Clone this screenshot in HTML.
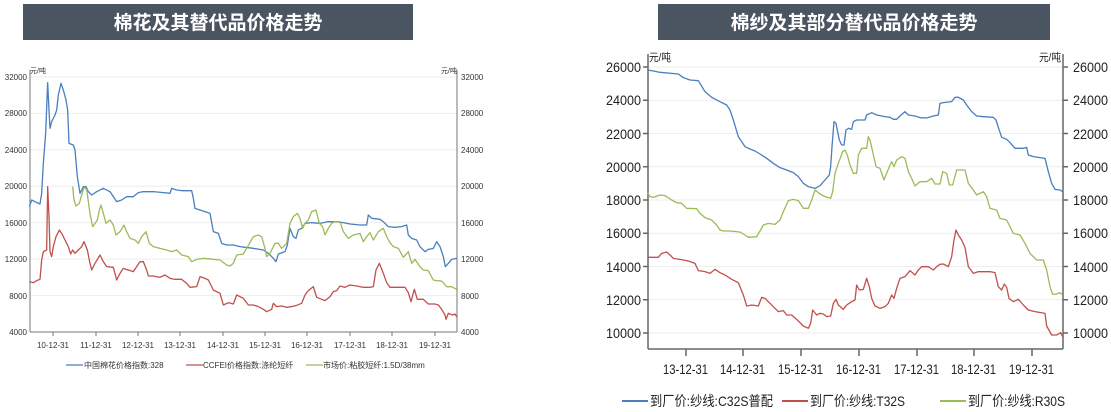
<!DOCTYPE html>
<html><head><meta charset="utf-8"><style>
body{margin:0;background:#fff;width:1111px;height:412px;overflow:hidden;font-family:"Liberation Sans","Noto Sans CJK SC",sans-serif}
svg{position:absolute;left:0;top:0}
.s{fill:none;stroke-width:1.3;vector-effect:non-scaling-stroke;stroke-linejoin:round}
</style></head><body>
<svg width="1111" height="412" viewBox="0 0 1111 412" font-family="Liberation Sans, Noto Sans CJK SC, sans-serif">
<rect x="23" y="4" width="390" height="36" fill="#4b5461"/>
<text x="218" y="29" fill="#fff" font-size="19" font-weight="bold" text-anchor="middle">棉花及其替代品价格走势</text>
<rect x="658" y="4" width="392" height="36" fill="#4b5461"/>
<text x="854" y="29" fill="#fff" font-size="19" font-weight="bold" text-anchor="middle">棉纱及其部分替代品价格走势</text>

<!-- LEFT CHART -->
<g stroke="#eee" stroke-width="1">
<line x1="30" x2="457" y1="77" y2="77"/><line x1="30" x2="457" y1="113.4" y2="113.4"/><line x1="30" x2="457" y1="149.9" y2="149.9"/><line x1="30" x2="457" y1="186.3" y2="186.3"/><line x1="30" x2="457" y1="222.7" y2="222.7"/><line x1="30" x2="457" y1="259.1" y2="259.1"/><line x1="30" x2="457" y1="295.6" y2="295.6"/>
</g>
<g stroke="#777" stroke-width="1" fill="none">
<line x1="30" y1="70" x2="30" y2="332"/><line x1="457" y1="70" x2="457" y2="332"/><line x1="30" y1="332" x2="457" y2="332"/>
</g>
<g font-size="8" fill="#333" text-anchor="end">
<text x="27" y="80">32000</text><text x="27" y="116">28000</text><text x="27" y="153">24000</text><text x="27" y="189">20000</text><text x="27" y="226">16000</text><text x="27" y="262">12000</text><text x="27" y="299">8000</text><text x="27" y="335">4000</text>
</g>
<g font-size="8" fill="#333">
<text x="461" y="80">32000</text><text x="461" y="116">28000</text><text x="461" y="153">24000</text><text x="461" y="189">20000</text><text x="461" y="226">16000</text><text x="461" y="262">12000</text><text x="461" y="299">8000</text><text x="461" y="335">4000</text>
<text x="30" y="73" font-size="7">元/吨</text><text x="441" y="73" font-size="7">元/吨</text>
</g>
<g font-size="8" fill="#333" text-anchor="middle">
<text x="53" y="348">10-12-31</text><text x="96" y="348">11-12-31</text><text x="138" y="348">12-12-31</text><text x="180" y="348">13-12-31</text><text x="223" y="348">14-12-31</text><text x="265" y="348">15-12-31</text><text x="307" y="348">16-12-31</text><text x="350" y="348">17-12-31</text><text x="392" y="348">18-12-31</text><text x="435" y="348">19-12-31</text>
</g>
<g stroke="#777"><path d="M53 332v4M96 332v4M138 332v4M180 332v4M223 332v4M265 332v4M307 332v4M350 332v4M392 332v4M435 332v4"/></g>
<g transform="translate(0,50) scale(0.33333)">
<polyline class="s" stroke="#4a7ebf" points="88,470 95,450 105,455 120,462 125,430 130,340 137,250 143,98 147,180 150,235 155,215 165,195 170,180 175,135 183,100 190,120 198,150 203,180 207,280 220,285 225,300 232,380 240,430 250,410 258,410 265,425 275,435 290,425 310,415 330,425 340,440 350,455 365,450 380,440 400,440 415,428 430,425 460,425 490,428 510,430 515,415 530,420 545,422 575,422 580,445 585,475 600,480 615,485 630,490 640,545 655,550 665,580 680,585 700,585 720,590 735,592 760,595 790,600 805,610 820,625 828,635 835,612 855,605 862,585 870,535 880,560 888,565 895,540 905,535 915,520 935,518 960,520 985,515 1005,515 1030,518 1050,522 1080,525 1100,525 1105,495 1115,505 1140,508 1150,515 1165,530 1185,532 1205,530 1220,525 1225,555 1235,565 1250,570 1260,590 1275,605 1285,598 1300,595 1310,575 1320,590 1330,620 1336,650 1345,640 1355,628 1370,625"/>
<polyline class="s" stroke="#c0504d" points="88,695 100,698 110,692 120,688 125,630 130,605 140,600 143,410 147,500 150,605 155,620 160,590 168,560 178,540 185,550 195,570 205,590 212,612 218,600 225,610 235,600 245,590 252,575 262,600 270,640 275,660 285,640 300,615 310,635 320,650 340,652 350,690 360,670 370,655 385,660 400,665 410,650 420,635 430,635 440,660 445,678 460,678 480,682 495,675 510,685 525,688 545,688 560,700 570,712 590,710 600,680 615,685 625,690 640,720 660,730 670,765 685,758 700,762 710,735 730,745 745,765 760,765 775,770 790,778 800,785 815,778 820,760 830,770 845,768 860,772 875,770 890,766 905,760 915,735 925,722 940,710 950,742 965,748 975,752 990,740 1000,725 1010,722 1020,708 1035,712 1050,705 1070,708 1090,712 1110,712 1120,710 1128,660 1138,640 1150,670 1160,698 1170,712 1190,712 1215,712 1225,728 1233,755 1243,718 1252,748 1270,748 1285,762 1305,762 1315,765 1325,778 1335,795 1338,808 1345,790 1358,795 1365,792 1370,800"/>
<polyline class="s" stroke="#9bbb59" points="218,410 222,450 228,468 238,460 245,435 252,412 260,418 265,455 270,490 278,530 285,520 292,510 298,480 303,465 310,490 318,520 330,510 340,525 348,555 360,545 372,525 380,545 390,565 405,570 415,580 425,560 438,545 448,580 460,590 480,595 500,600 515,605 530,600 545,615 565,620 575,635 590,628 610,625 640,628 660,630 680,645 690,648 700,640 710,615 730,612 740,595 760,560 775,555 785,560 795,595 800,620 810,610 825,580 835,580 845,595 860,580 870,520 880,500 892,490 900,505 908,535 915,520 925,510 935,485 948,480 958,520 968,530 975,555 985,535 995,520 1005,515 1020,515 1030,545 1045,565 1060,555 1080,550 1090,575 1100,560 1110,548 1120,570 1135,545 1150,535 1160,560 1170,578 1180,590 1195,595 1210,622 1225,605 1235,640 1245,628 1260,650 1270,660 1285,662 1300,690 1310,692 1325,693 1340,710 1355,710 1370,718"/>
</g>
<g font-size="8" fill="#333">
<line x1="66" x2="83" y1="365" y2="365" stroke="#4a7ebf" stroke-width="1.3"/><text x="84" y="368">中国棉花价格指数:328</text>
<line x1="186" x2="203" y1="365" y2="365" stroke="#c0504d" stroke-width="1.3"/><text x="203" y="368">CCFEI价格指数:涤纶短纤</text>
<line x1="306" x2="323" y1="365" y2="365" stroke="#9bbb59" stroke-width="1.3"/><text x="323" y="368">市场价:粘胶短纤:1.5D/38mm</text>
</g>

<!-- RIGHT CHART -->
<g stroke="#eee" stroke-width="1">
<line x1="648" x2="1063" y1="67" y2="67"/><line x1="648" x2="1063" y1="100.25" y2="100.25"/><line x1="648" x2="1063" y1="133.5" y2="133.5"/><line x1="648" x2="1063" y1="166.75" y2="166.75"/><line x1="648" x2="1063" y1="200" y2="200"/><line x1="648" x2="1063" y1="233.25" y2="233.25"/><line x1="648" x2="1063" y1="266.5" y2="266.5"/><line x1="648" x2="1063" y1="299.75" y2="299.75"/><line x1="648" x2="1063" y1="333" y2="333"/>
</g>
<g stroke="#666" stroke-width="1.5" fill="none">
<line x1="648" y1="54" x2="648" y2="349"/><line x1="1063" y1="54" x2="1063" y2="349"/><line x1="648" y1="349" x2="1063" y2="349"/>
<path d="M643 67h5M643 100.25h5M643 133.5h5M643 166.75h5M643 200h5M643 233.25h5M643 266.5h5M643 299.75h5M643 333h5M1063 67h5M1063 100.25h5M1063 133.5h5M1063 166.75h5M1063 200h5M1063 233.25h5M1063 266.5h5M1063 299.75h5M1063 333h5"/>
<path d="M686 349v7M743 349v7M801 349v7M859 349v7M917 349v7M974 349v7M1032 349v7"/>
</g>
<g font-size="14" fill="#222">
<text x="606" y="72" textLength="35" lengthAdjust="spacingAndGlyphs">26000</text><text x="606" y="105" textLength="35" lengthAdjust="spacingAndGlyphs">24000</text><text x="606" y="139" textLength="35" lengthAdjust="spacingAndGlyphs">22000</text><text x="606" y="172" textLength="35" lengthAdjust="spacingAndGlyphs">20000</text><text x="606" y="205" textLength="35" lengthAdjust="spacingAndGlyphs">18000</text><text x="606" y="238" textLength="35" lengthAdjust="spacingAndGlyphs">16000</text><text x="606" y="272" textLength="35" lengthAdjust="spacingAndGlyphs">14000</text><text x="606" y="305" textLength="35" lengthAdjust="spacingAndGlyphs">12000</text><text x="606" y="338" textLength="35" lengthAdjust="spacingAndGlyphs">10000</text>
<text x="1073" y="72" textLength="35" lengthAdjust="spacingAndGlyphs">26000</text><text x="1073" y="105" textLength="35" lengthAdjust="spacingAndGlyphs">24000</text><text x="1073" y="139" textLength="35" lengthAdjust="spacingAndGlyphs">22000</text><text x="1073" y="172" textLength="35" lengthAdjust="spacingAndGlyphs">20000</text><text x="1073" y="205" textLength="35" lengthAdjust="spacingAndGlyphs">18000</text><text x="1073" y="238" textLength="35" lengthAdjust="spacingAndGlyphs">16000</text><text x="1073" y="272" textLength="35" lengthAdjust="spacingAndGlyphs">14000</text><text x="1073" y="305" textLength="35" lengthAdjust="spacingAndGlyphs">12000</text><text x="1073" y="338" textLength="35" lengthAdjust="spacingAndGlyphs">10000</text>
<text x="649" y="61" font-size="11" textLength="22" lengthAdjust="spacingAndGlyphs">元/吨</text><text x="1039" y="61" font-size="11" textLength="22" lengthAdjust="spacingAndGlyphs">元/吨</text>
</g>
<g font-size="14" fill="#222">
<text x="663" y="374" textLength="45" lengthAdjust="spacingAndGlyphs">13-12-31</text><text x="720" y="374" textLength="45" lengthAdjust="spacingAndGlyphs">14-12-31</text><text x="778" y="374" textLength="45" lengthAdjust="spacingAndGlyphs">15-12-31</text><text x="836" y="374" textLength="45" lengthAdjust="spacingAndGlyphs">16-12-31</text><text x="894" y="374" textLength="45" lengthAdjust="spacingAndGlyphs">17-12-31</text><text x="951" y="374" textLength="45" lengthAdjust="spacingAndGlyphs">18-12-31</text><text x="1009" y="374" textLength="45" lengthAdjust="spacingAndGlyphs">19-12-31</text>
</g>
<g transform="translate(590,40) scale(0.33333)">
<polyline class="s" stroke="#4a7ebf" points="173,90 190,93 210,97 265,102 280,113 300,120 325,122 345,155 365,172 390,185 410,195 420,210 430,240 445,290 465,320 480,327 495,333 510,342 530,355 550,370 570,383 590,390 610,398 625,410 640,430 655,440 675,445 690,437 705,420 718,405 722,380 726,320 732,245 738,250 742,270 748,300 755,315 762,315 768,270 776,265 785,268 790,245 800,240 825,240 830,225 845,218 860,225 885,230 900,232 910,238 920,238 930,228 945,215 955,225 975,228 990,233 1010,234 1030,228 1045,225 1050,190 1060,188 1085,185 1095,172 1105,172 1120,180 1130,195 1145,215 1160,228 1180,230 1210,232 1218,240 1225,262 1235,292 1250,298 1262,310 1275,325 1300,325 1310,322 1315,345 1330,350 1345,352 1365,355 1375,395 1385,430 1395,448 1410,450 1418,455"/>
<polyline class="s" stroke="#9bbb59" points="173,458 180,470 190,472 210,465 225,467 245,480 260,488 275,490 290,505 320,506 330,520 345,533 365,540 380,555 390,570 400,573 420,573 450,576 465,585 475,592 500,590 510,573 520,555 535,550 555,553 570,540 580,515 595,482 610,478 625,482 640,505 655,505 665,480 675,450 690,462 705,470 722,475 728,455 735,400 745,370 758,335 765,330 772,345 780,375 790,400 800,400 805,345 815,325 830,325 835,290 840,300 848,335 858,380 870,385 882,420 890,400 900,375 905,365 912,380 920,360 935,350 945,355 955,395 965,415 975,438 990,425 1010,425 1025,415 1035,432 1050,432 1058,395 1070,400 1078,435 1088,435 1100,390 1125,390 1135,430 1150,450 1160,465 1180,455 1190,470 1200,505 1220,510 1230,535 1250,540 1270,580 1290,585 1305,610 1320,640 1340,660 1360,660 1370,690 1380,740 1388,763 1400,762 1410,758 1418,765"/>
<polyline class="s" stroke="#c0504d" points="173,652 205,652 215,640 230,636 240,645 250,655 270,658 295,663 315,670 325,692 345,695 360,700 375,688 390,698 405,705 425,718 445,728 460,765 470,798 485,795 505,798 515,772 525,775 535,785 550,800 565,815 580,812 590,825 605,825 620,838 640,858 655,865 662,850 668,810 680,825 690,820 700,822 710,830 722,828 730,790 738,778 745,795 760,808 770,795 785,785 795,780 800,735 808,750 820,748 830,715 838,740 845,775 855,798 870,805 885,800 895,790 905,765 912,775 920,745 930,715 945,710 960,692 975,705 985,690 995,680 1015,680 1030,690 1040,680 1050,673 1060,672 1075,680 1085,650 1092,600 1098,570 1105,585 1115,600 1125,622 1135,680 1150,700 1165,695 1200,695 1215,698 1225,740 1235,750 1243,732 1250,742 1257,775 1270,785 1285,778 1300,795 1315,810 1335,815 1365,820 1370,858 1385,885 1400,885 1412,878 1418,890"/>
</g>
<g font-size="14" fill="#222">
<line x1="622" x2="648" y1="401" y2="401" stroke="#4a7ebf" stroke-width="2"/><text x="650" y="406" textLength="123" lengthAdjust="spacingAndGlyphs">到厂价:纱线:C32S普配</text>
<line x1="782" x2="808" y1="401" y2="401" stroke="#c0504d" stroke-width="2"/><text x="810" y="406" textLength="95" lengthAdjust="spacingAndGlyphs">到厂价:纱线:T32S</text>
<line x1="940" x2="966" y1="401" y2="401" stroke="#9bbb59" stroke-width="2"/><text x="968" y="406" textLength="97" lengthAdjust="spacingAndGlyphs">到厂价:纱线:R30S</text>
</g>
</svg>
</body></html>
